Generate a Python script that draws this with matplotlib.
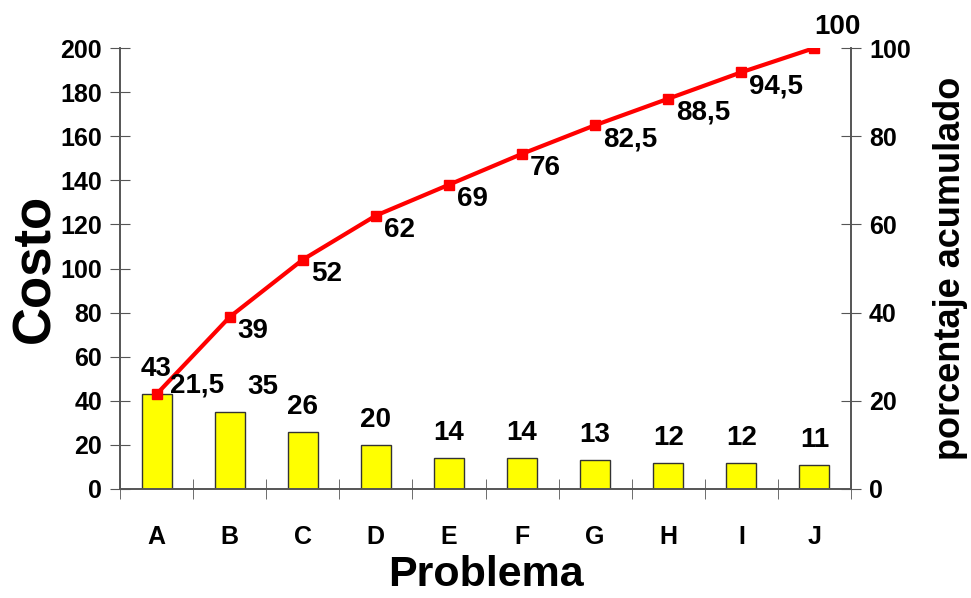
import matplotlib.pyplot as plt
import numpy as np

plt.rcParams["font.family"] = ["Liberation Sans", "DejaVu Sans"]
plt.rcParams["font.weight"] = "bold"

problems = ["A", "B", "C", "D", "E", "F", "G", "H", "I", "J"]
cost = [43, 35, 26, 20, 14, 14, 13, 12, 12, 11]
cum_pct = [21.5, 39, 52, 62, 69, 76, 82.5, 88.5, 94.5, 100]

fig = plt.figure(figsize=(9.71, 5.98), dpi=100)
ax = fig.add_axes([120 / 971, 109 / 598, 731 / 971, 441 / 598])
ax2 = ax.twinx()

x = np.arange(len(problems))
ax.bar(x, cost, width=0.41, color="#FFFF00", edgecolor="#333333", linewidth=1, zorder=2)

for i, v in enumerate(cost):
    dx = 33 if i == 1 else 0
    ax.annotate(str(v), (i, v), xytext=(dx, 12), textcoords="offset pixels",
                ha="center", va="bottom", fontsize=20, fontweight="bold")

ax2.plot(x, cum_pct, color="#FF0000", linewidth=3, marker="s", markersize=6.5, zorder=3)

for i, v in enumerate(cum_pct):
    s = f"{v:g}".replace(".", ",")
    if i == 0:
        ax2.annotate(s, (i, v), xytext=(13, 9), textcoords="offset pixels",
                     ha="left", va="center", fontsize=20, fontweight="bold")
    elif i == len(cum_pct) - 1:
        ax2.annotate(s, (i, v), xytext=(0, 8), textcoords="offset pixels",
                     ha="left", va="bottom", fontsize=20, fontweight="bold")
    else:
        ax2.annotate(s, (i, v), xytext=(8, -1), textcoords="offset pixels",
                     ha="left", va="top", fontsize=20, fontweight="bold")

ax.set_xlim(-0.5, len(problems) - 0.5)
ax.set_ylim(0, 200)
ax2.set_ylim(0, 100)
ax.set_yticks(range(0, 201, 20))
ax2.set_yticks(range(0, 101, 20))

ax.set_xticks(x)
ax.set_xticklabels(problems)
ax.set_xticks(np.arange(-0.5, len(problems), 1), minor=True)
ax.tick_params(axis="x", which="major", length=0, pad=26, labelsize=18)
ax.tick_params(axis="x", which="minor", direction="inout", length=14, color="#555555")
ax.tick_params(axis="y", direction="inout", length=14, color="#555555", labelsize=18, pad=6)
ax2.tick_params(axis="y", direction="inout", length=14, color="#555555", labelsize=18, pad=6)

for a in (ax, ax2):
    a.spines["top"].set_visible(False)
    for sp in ("left", "right", "bottom"):
        a.spines[sp].set_color("#555555")
        a.spines[sp].set_linewidth(1.2)

ax.set_xlabel("Problema", fontsize=31, fontweight="bold", labelpad=4)
ax.set_ylabel("Costo", fontsize=38, fontweight="bold", labelpad=0)
ax2.set_ylabel("porcentaje acumulado", fontsize=26, fontweight="bold", labelpad=16)

fig.savefig("out.png", dpi=100)
